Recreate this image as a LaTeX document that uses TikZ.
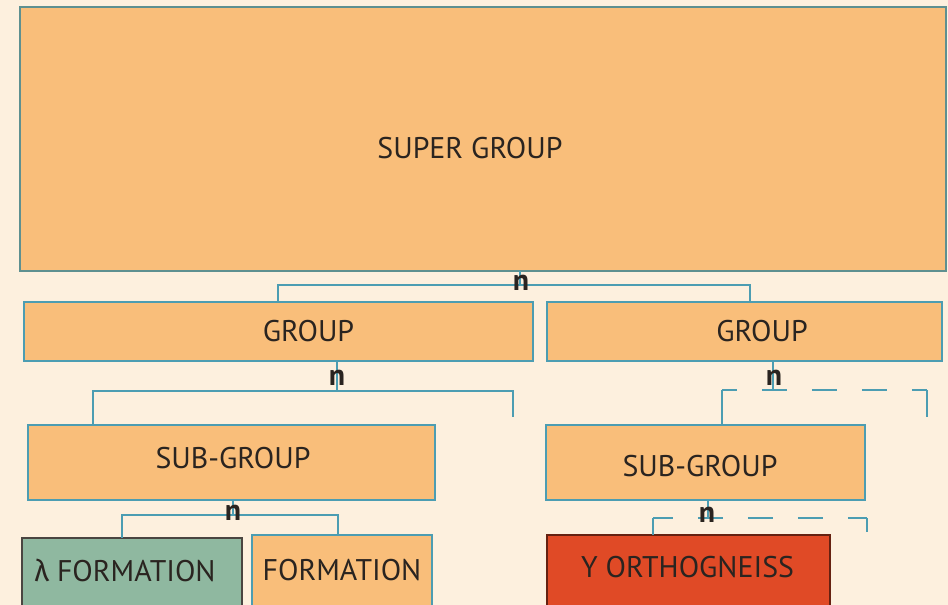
\documentclass[tikz,border=0pt]{standalone}
\usepackage{fontspec}
\setmainfont{PT Sans}
\newfontfamily\grk{Fira Sans}
\definecolor{paper}{HTML}{FDF0DE}
\definecolor{peach}{HTML}{F9BE7A}
\definecolor{sage}{HTML}{8FB8A0}
\definecolor{brick}{HTML}{E04A26}
\definecolor{teal}{HTML}{4C9DB2}
\definecolor{greyteal}{HTML}{5E9090}
\definecolor{ink}{HTML}{2A2420}

\begin{document}
\begin{tikzpicture}[x=0.02cm,y=-0.02cm,
   box/.style={draw=teal,fill=peach,line width=1.3pt,inner sep=0pt,outer sep=0pt,%
      label distance=0pt,font=\fontsize{17}{20}\selectfont,text=ink},
   unit/.style={box,draw=ink!85},
   link/.style={draw=teal,line width=1.5pt},
   maybe/.style={link,dash pattern=on 0.5cm off 0.5cm},
   nlab/.style={font=\fontsize{17}{17}\selectfont\bfseries,text=ink,inner sep=0pt}]
   \useasboundingbox (0,0) rectangle (948,605);
   \clip (0,0) rectangle (948,605);
   \fill[paper] (0,0) rectangle (948,605);
   \node[box,draw=greyteal,minimum width=18.52cm,minimum height=5.28cm,%
      label={[xshift=-0.26cm,yshift=-0.18cm,font=\fontsize{17}{20}\selectfont,text=ink]center:SUPER GROUP}]
      (super) at (483,139) {};
   \node[box,minimum width=10.18cm,minimum height=1.18cm,%
      label={[xshift=0.6cm,font=\fontsize{17}{20}\selectfont,text=ink]center:GROUP}]
      (gl) at (278.5,331.5) {};
   \node[box,minimum width=7.9cm,minimum height=1.18cm,%
      label={[xshift=0.35cm,font=\fontsize{17}{20}\selectfont,text=ink]center:GROUP}]
      (gr) at (744.5,331.5) {};
   \node[box,minimum width=8.14cm,minimum height=1.5cm,%
      label={[xshift=0.03cm,yshift=0.09cm,font=\fontsize{17}{20}\selectfont,text=ink]center:SUB-GROUP}]
      (sgl) at (231.5,462.5) {};
   \node[box,minimum width=6.38cm,minimum height=1.5cm,%
      label={[xshift=-0.11cm,yshift=-0.07cm,font=\fontsize{17}{20}\selectfont,text=ink]center:SUB-GROUP}]
      (sgr) at (705.5,462.5) {};
   \node[unit,fill=sage,minimum width=4.4cm,minimum height=1.64cm,%
      label={[xshift=-0.14cm,yshift=0.18cm,font=\fontsize{17}{20}\selectfont,text=ink]center:{{\grk λ} FORMATION}}]
      (lam) at (132,579) {};
   \node[box,minimum width=3.6cm,minimum height=1.7cm,%
      label={[yshift=0.15cm,font=\fontsize{17}{20}\selectfont,text=ink]center:FORMATION}]
      (form) at (342,577.5) {};
   \node[unit,fill=brick,draw=brick!45!black,minimum width=5.66cm,minimum height=1.7cm,%
      label={[xshift=-0.02cm,yshift=0.21cm,font=\fontsize{17}{20}\selectfont,text=ink]center:Y ORTHOGNEISS}]
      (ortho) at (688.5,577.5) {};
   % super group to groups
   \coordinate (n1) at (520,285);
   \coordinate (a1) at (278,285);
   \coordinate (b1) at (750,285);
   \draw[link] (super.south -| n1) -- (n1);
   \draw[link] (gl.north -| a1) -- (a1) -- (b1) -- (gr.north -| b1);
   \node[nlab] (k1) at (521,283) {n};
   % left group
   \coordinate (n2) at (337,391);
   \coordinate (a2) at (93,391);
   \coordinate (b2) at (513,391);
   \coordinate (e2) at (513,417);
   \draw[link] (gl.south -| n2) -- (n2);
   \draw[link] (sgl.north -| a2) -- (a2) -- (b2) -- (e2);
   \node[nlab] (k2) at (337,378) {n};
   % right group
   \coordinate (n3) at (773,390);
   \coordinate (a3) at (722,390);
   \coordinate (b3) at (927,390);
   \coordinate (e3) at (927,417);
   \draw[link] (gr.south -| n3) -- (n3);
   \draw[maybe,dash phase=0.2cm] (a3) -- (b3);
   \draw[link] (sgr.north -| a3) -- (a3);
   \draw[link] (b3) -- (e3);
   \node[nlab] (k3) at (774,378) {n};
   % left sub-group
   \coordinate (n4) at (233,515);
   \coordinate (a4) at (122,515);
   \coordinate (b4) at (338,515);
   \draw[link] (sgl.south -| n4) -- (n4);
   \draw[link] (lam.north -| a4) -- (a4) -- (b4) -- (form.north -| b4);
   \node[nlab] (k4) at (233,513) {n};
   % right sub-group
   \coordinate (n5) at (708,518);
   \coordinate (a5) at (653,518);
   \coordinate (b5) at (867,518);
   \coordinate (e5) at (867,532);
   \draw[link] (sgr.south -| n5) -- (n5);
   \draw[maybe,dash phase=0.1cm] (a5) -- (b5);
   \draw[link] (ortho.north -| a5) -- (a5);
   \draw[link] (b5) -- (e5);
   \node[nlab] (k5) at (707,515) {n};
\end{tikzpicture}
\end{document}
